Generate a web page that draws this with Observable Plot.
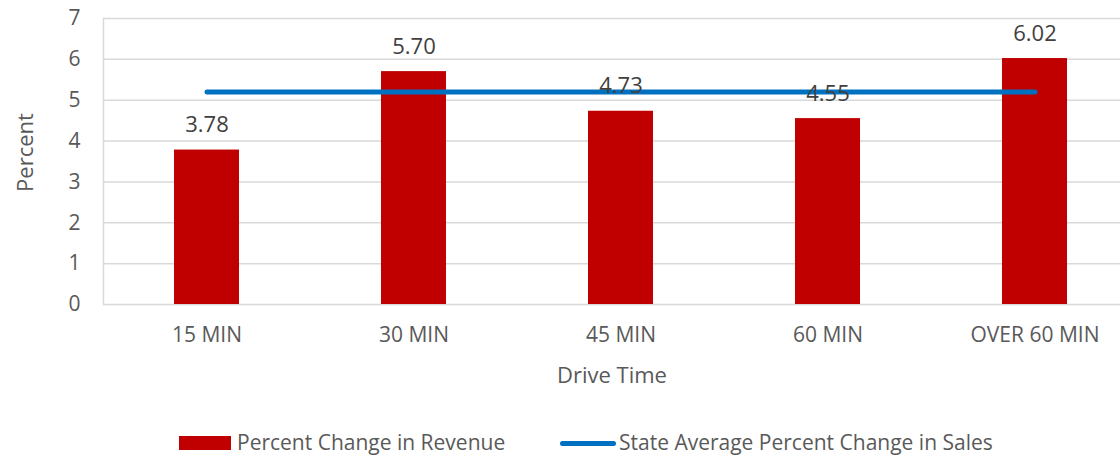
<!DOCTYPE html>
<html>
<head>
<meta charset="utf-8">
<script src="https://cdn.jsdelivr.net/npm/d3@7"></script>
<script src="https://cdn.jsdelivr.net/npm/@observablehq/plot@0.6"></script>
<style>
  html, body { margin: 0; padding: 0; background: #fff; overflow: hidden; }
  #chart svg { display: block; }
  #legend { position: relative; height: 28px; font-family: "Open Sans", sans-serif; font-size: 21px; color: #595959; }
  #legend .sw { position: absolute; }
  #legend .lb { position: absolute; top: 0; line-height: 28px; white-space: nowrap; }
</style>
</head>
<body>
<div id="chart"></div>
<div id="legend">
  <div class="sw" style="left:179px; top:8px; width:52px; height:14px; background:#C00000;"></div>
  <div class="lb" style="left:237px;">Percent Change in Revenue</div>
  <div class="sw" style="left:560px; top:12.5px; width:56px; height:5px; border-radius:3px; background:#0070C0;"></div>
  <div class="lb" style="left:619px;">State Average Percent Change in Sales</div>
</div>
<script>
const categories = ["15 MIN", "30 MIN", "45 MIN", "60 MIN", "OVER 60 MIN"];
const revenueChange = [3.78, 5.70, 4.73, 4.55, 6.02];
const stateAverage = [5.2, 5.2, 5.2, 5.2, 5.2];
const yTicks = [0, 1, 2, 3, 4, 5, 6, 7];

const bars = categories.map((c, i) => ({category: c, value: revenueChange[i]}));
const avg = categories.map((c, i) => ({category: c, value: stateAverage[i]}));

const chart = Plot.plot({
  width: 1120,
  height: 428,
  marginLeft: 103,
  marginRight: 0,
  marginTop: 18,
  marginBottom: 124,
  style: {fontFamily: "'Open Sans', sans-serif", fontSize: "21px", color: "#595959", background: "#fff"},
  x: {domain: categories, range: [103, 1138], paddingInner: 0.686, paddingOuter: 0.343, label: null, tickSize: 0, tickPadding: 23},
  y: {domain: [0, 7], ticks: yTicks, tickFormat: d => String(d), label: null, tickSize: 0, tickPadding: 23},
  marks: [
    Plot.ruleY(yTicks, {stroke: "#D9D9D9", strokeWidth: 1.5}),
    Plot.frame({anchor: "left", stroke: "#D9D9D9", strokeWidth: 1.5}),
    Plot.barY(bars, {x: "category", y: "value", fill: "#C00000"}),
    Plot.line(avg, {x: "category", y: "value", stroke: "#0070C0", strokeWidth: 5, strokeLinecap: "round"}),
    Plot.text(bars, {x: "category", y: "value", text: d => d.value.toFixed(2), dy: -25, fill: "#404040", fontSize: 22}),
    Plot.text(["Drive Time"], {frameAnchor: "bottom", dy: 78, fill: "#595959", fontSize: 22}),
    Plot.text(["Percent"], {frameAnchor: "left", textAnchor: "middle", rotate: -90, dx: -78, dy: -9, fill: "#595959", fontSize: 22})
  ]
});
document.getElementById("chart").appendChild(chart);
</script>
</body>
</html>
